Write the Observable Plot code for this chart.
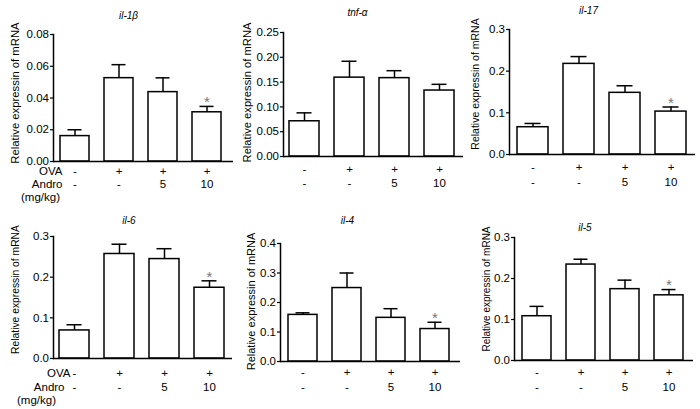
<!DOCTYPE html>
<html><head><meta charset="utf-8">
<script src="https://cdn.jsdelivr.net/npm/d3@7"></script>
<script src="https://cdn.jsdelivr.net/npm/@observablehq/plot@0.6"></script>
<style>
html,body{margin:0;padding:0;background:#fff;}
#wrap{position:relative;width:700px;height:409px;overflow:hidden;background:#fff;}
#wrap > svg{position:absolute;overflow:visible;}
</style></head><body><div id="wrap"></div>
<script>
// ---- data ----
const groups = ["Control", "OVA", "OVA+Andro5", "OVA+Andro10"];
const ovaLabels = ["-", "+", "+", "+"];
const androLabels = ["-", "-", "5", "10"];
const sideLabels = ["OVA", "Andro", "(mg/kg)"];
const yLabel = "Relative expressin of mRNA";
const genes = ["il-1β", "tnf-α", "il-17", "il-6", "il-4", "il-5"];

const il1bMean = [0.016, 0.0525, 0.0437, 0.031];
const il1bSem  = [0.004, 0.0085, 0.009, 0.0037];
const tnfMean  = [0.071, 0.159, 0.158, 0.133];
const tnfSem   = [0.017, 0.033, 0.015, 0.0125];
const il17Mean = [0.0655, 0.2175, 0.148, 0.103];
const il17Sem  = [0.009, 0.0175, 0.017, 0.011];
const il6Mean  = [0.069, 0.257, 0.2445, 0.174];
const il6Sem   = [0.014, 0.024, 0.0255, 0.017];
const il4Mean  = [0.158, 0.249, 0.148, 0.110];
const il4Sem   = [0.007, 0.051, 0.031, 0.023];
const il5Mean  = [0.108, 0.234, 0.174, 0.159];
const il5Sem   = [0.024, 0.013, 0.022, 0.014];

const il1bSig = [false, false, false, true];
const tnfSig  = [false, false, false, false];
const il17Sig = [false, false, false, true];
const il6Sig  = [false, false, false, true];
const il4Sig  = [false, false, false, true];
const il5Sig  = [false, false, false, true];

const yMax   = [0.08, 0.25, 0.3, 0.3, 0.4, 0.3];
const yStep  = [0.02, 0.05, 0.1, 0.1, 0.1, 0.1];
const yFmt   = [".2f", ".2f", ".1f", ".1f", ".1f", ".1f"];

// ---- layout ----
const layout = [
  {left:0,   top:0,   w:240, h:205, ml:53, mr:7,  mt:34, mb:44, il:6, ir:10, tdx:-15, tdy:-19, ldx:-38, ldy:-5, lfs:11.3, r1:9.5, r2:23, side:[{dx:9,dy:9.5,a:"end"},{dx:9,dy:23,a:"end"},{dx:-13,dy:35.5,a:"middle"}]},
  {left:230, top:0,   w:240, h:205, ml:53, mr:7,  mt:32, mb:49, il:6, ir:8,  tdx:-16, tdy:-20, ldx:-36, ldy:-2, lfs:11.2, r1:13, r2:27, side:null},
  {left:460, top:0,   w:240, h:205, ml:49, mr:5,  mt:29, mb:51, il:8, ir:9,  tdx:-14, tdy:-19, ldx:-34, ldy:-8, lfs:10.5, r1:13, r2:28, side:null},
  {left:0,   top:205, w:240, h:204, ml:53, mr:8,  mt:31, mb:51, il:5, ir:6,  tdx:-14, tdy:-16, ldx:-38, ldy:-8, lfs:10.3, r1:15, r2:29, side:[{dx:17,dy:15,a:"end"},{dx:11,dy:29,a:"end"},{dx:-17,dy:42,a:"middle"}]},
  {left:230, top:205, w:240, h:204, ml:50, mr:10, mt:38, mb:48, il:7, ir:9,  tdx:-23, tdy:-23, ldx:-29, ldy:-1, lfs:11,   r1:11, r2:26, side:null},
  {left:460, top:205, w:240, h:204, ml:54, mr:7,  mt:32, mb:49, il:8, ir:9,  tdx:-19, tdy:-10, ldx:-28, ldy:-10, lfs:10,  r1:12, r2:27, side:null}
];

const means = [il1bMean, tnfMean, il17Mean, il6Mean, il4Mean, il5Mean];
const sems  = [il1bSem, tnfSem, il17Sem, il6Sem, il4Sem, il5Sem];
const sigs  = [il1bSig, tnfSig, il17Sig, il6Sig, il4Sig, il5Sig];

const FONT = "'Liberation Sans', Arial, Helvetica, sans-serif";
const wrap = document.getElementById("wrap");

genes.forEach((gene, k) => {
  const c = layout[k];
  const data = groups.map((g, i) => ({
    group: g, mean: means[k][i], top: means[k][i] + sems[k][i],
    ova: ovaLabels[i], andro: androLabels[i], sig: sigs[k][i]
  }));
  const ticks = d3.range(0, yMax[k] + yStep[k] / 2, yStep[k]);
  const marks = [
    Plot.barY(data, {x: "group", y: "mean", fill: "white", stroke: "black", strokeWidth: 1.5}),
    Plot.ruleX(data, {x: "group", y1: "mean", y2: "top", stroke: "black", strokeWidth: 1.5}),
    Plot.tickY(data, {x: "group", y: "top", insetLeft: 7.5, insetRight: 7.5, stroke: "black", strokeWidth: 1.5}),
    Plot.text(data.filter(d => d.sig), {x: "group", y: "top", text: () => "*", dy: -4, fill: "#777777", fontSize: 15}),
    Plot.ruleY([0], {stroke: "black", strokeWidth: 1.5}),
    Plot.frame({anchor: "left", stroke: "black", strokeWidth: 1.5}),
    Plot.axisY({ticks, tickFormat: d3.format(yFmt[k]), tickSize: 3, tickPadding: 1.5, fontSize: 11.5, strokeWidth: 1.2, label: null}),
    Plot.text([gene], {frameAnchor: "top", dx: c.tdx, dy: c.tdy, text: d => d, fontStyle: "italic", fontSize: 10, lineAnchor: "middle"}),
    Plot.text([yLabel], {frameAnchor: "left", text: d => d, rotate: -90, dx: c.ldx, dy: c.ldy, fontSize: c.lfs, textAnchor: "middle", lineAnchor: "middle"}),
    Plot.text(data, {x: "group", text: "ova", frameAnchor: "bottom", dy: c.r1, fontSize: 11.5, lineAnchor: "middle"}),
    Plot.text(data, {x: "group", text: "andro", frameAnchor: "bottom", dy: c.r2, fontSize: 11.5, lineAnchor: "middle"})
  ];
  if (c.side) {
    sideLabels.forEach((s, j) => {
      const sp = c.side[j];
      marks.push(Plot.text([s], {frameAnchor: "bottom-left", text: d => d, dx: sp.dx, dy: sp.dy, textAnchor: sp.a, fontSize: 11.5, lineAnchor: "middle"}));
    });
  }
  const svg = Plot.plot({
    width: c.w, height: c.h,
    marginLeft: c.ml, marginRight: c.mr, marginTop: c.mt, marginBottom: c.mb,
    style: {fontFamily: FONT, background: "transparent", color: "black", overflow: "visible"},
    x: {type: "band", domain: groups, paddingInner: 0.33, paddingOuter: 0, insetLeft: c.il, insetRight: c.ir, axis: null},
    y: {domain: [0, yMax[k]], axis: null},
    marks
  });
  svg.style.left = c.left + "px";
  svg.style.top = c.top + "px";
  wrap.appendChild(svg);
});
</script>
</body></html>
